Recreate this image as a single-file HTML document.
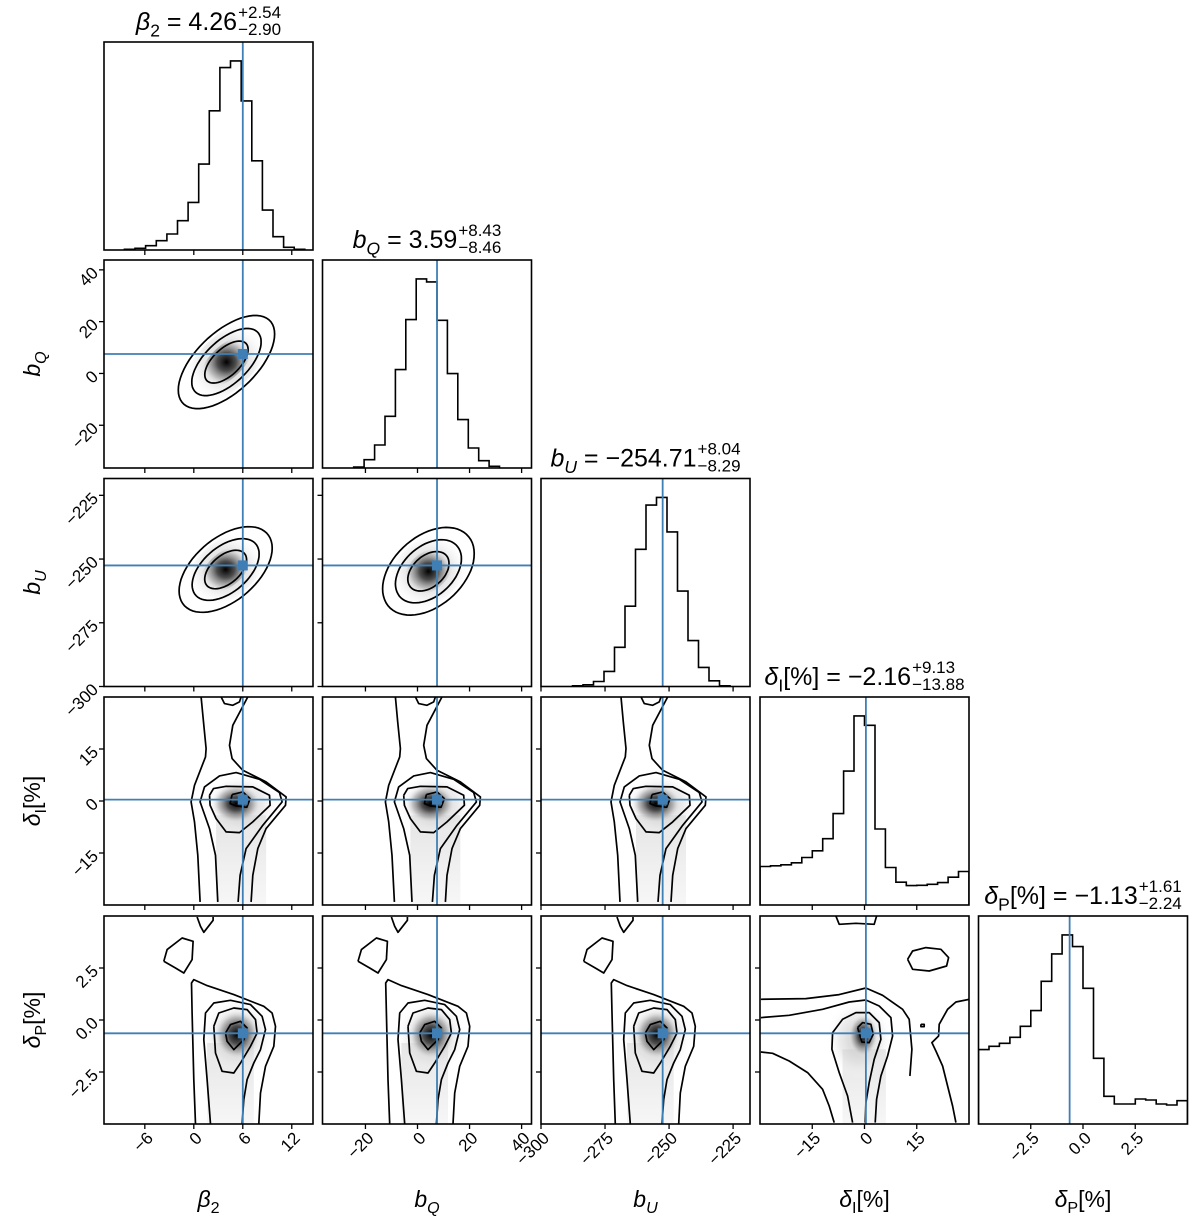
<!DOCTYPE html>
<html><head><meta charset="utf-8"><title>Corner plot</title>
<style>
html,body{margin:0;padding:0;background:#fff;}
svg{display:block;font-family:"Liberation Sans","DejaVu Sans",sans-serif;}
</style></head>
<body>
<svg id="fig" width="1200" height="1229" viewBox="0 0 1200 1229" xmlns="http://www.w3.org/2000/svg">
<defs>
<radialGradient id="core"><stop offset="0" stop-color="#000" stop-opacity="1"/><stop offset="0.35" stop-color="#333" stop-opacity="0.85"/><stop offset="0.7" stop-color="#999" stop-opacity="0.55"/><stop offset="1" stop-color="#fff" stop-opacity="0"/></radialGradient>
<radialGradient id="halo"><stop offset="0" stop-color="#bbb" stop-opacity="0.85"/><stop offset="0.6" stop-color="#ddd" stop-opacity="0.55"/><stop offset="1" stop-color="#fff" stop-opacity="0"/></radialGradient>
<linearGradient id="tail" x1="0" y1="0" x2="0" y2="1"><stop offset="0" stop-color="#d8d8d8" stop-opacity="0.7"/><stop offset="1" stop-color="#eeeeee" stop-opacity="0.5"/></linearGradient>
</defs>
</svg>
<script>
// ---- axis configuration (data ranges) ----
const lo = [-11, -36.5, -300, -30, -5];
const hi = [14.6, 43.8, -218.4, 30, 5];
const truths = [6.0, 7.5, -252.5, 0.4, -0.64];
const ticks = [[-6, 0, 6, 12], [-20, 0, 20, 40], [-300, -275, -250, -225], [-15, 0, 15], [-2.5, 0, 2.5]];
const tickLabels = [["−6", "0", "6", "12"], ["−20", "0", "20", "40"], ["−300", "−275", "−250", "−225"], ["−15", "0", "15"], ["−2.5", "0.0", "2.5"]];

// ---- 1D histograms ----
const histStart = [-8.5, -24.5, -287.7, -30, -5];
const histWidth = [1.3, 4.0, 4.1, 3, 0.5];
const hist0 = [2, 5, 13, 28, 48, 88, 143, 258, 418, 548, 568, 448, 268, 120, 40, 8, 2];
const hist1 = [3, 25, 69, 155, 295, 445, 567, 558, 443, 283, 145, 60, 22, 5];
const hist2 = [2, 5, 15, 45, 117, 240, 410, 542, 565, 462, 285, 137, 57, 17, 2];
const hist3 = [115, 117, 120, 126, 142, 162, 198, 273, 400, 565, 537, 227, 112, 68, 58, 59, 62, 67, 83, 100];
const hist4 = [223, 233, 242, 260, 293, 340, 428, 510, 567, 532, 407, 197, 83, 60, 60, 75, 72, 60, 57, 70];

// ---- 2D gaussian-like panels ----
const ellRows = [1, 2, 2];
const ellCols = [0, 0, 1];
const ellCx = [4.0, 3.9, 4.2];
const ellCy = [4.4, -254.1, -254.8];
const ellSx = [5.9, 5.7, 17.6];
const ellSy = [18, 16.8, 17.2];
const ellRho = [0.6, 0.5, 0.4];
const ellLevels = [1, 0.72, 0.45];

const titleMain = ["4.26", "3.59", "−254.71", "−2.16", "−1.13"];
const titleUp = ["+2.54", "+8.43", "+8.04", "+9.13", "+1.61"];
const titleDn = ["−2.90", "−8.46", "−8.29", "−13.88", "−2.24"];

// ---- layout ----
const L = [104, 322.5, 541, 760, 978.5], T = [42, 260, 478.5, 697, 916], W = 209, H = 208;
const NS = "http://www.w3.org/2000/svg";
const svg = document.getElementById("fig");
function sx(i, v) { return L[i] + (v - lo[i]) / (hi[i] - lo[i]) * W; }
function sy(j, v) { return T[j] + (hi[j] - v) / (hi[j] - lo[j]) * H; }
function mk(tag, attrs, parent) {
  const e = document.createElementNS(NS, tag);
  for (const k in attrs) e.setAttribute(k, attrs[k]);
  (parent || svg).appendChild(e);
  return e;
}
function pts(a) { return a.map(p => p[0].toFixed(1) + "," + p[1].toFixed(1)).join(" "); }
const BLUE = "#3f7fb6";

const tplRow3 = {o: [350, 333], s: 3,
  lines: [
    [[225,25],[232,100],[240,180],[238,205],[205,290],[195,340],[205,400],[215,500],[222,640]],
    [[365,25],[320,110],[310,170],[318,210],[350,245],[420,280],[480,325],[478,350],[420,420],[395,480],[380,560],[375,640]],
    [[285,25],[295,45],[320,50],[340,40],[345,25]],
    [[275,640],[268,500],[250,420],[222,340],[235,295],[280,262],[330,252],[400,272],[460,312],[468,340],[410,410],[360,480],[342,560],[336,640]],
    [[250,320],[262,300],[300,293],[380,295],[430,320],[432,350],[380,400],[340,432],[300,430],[270,390],[252,350],[250,320]],
    [[318,318],[350,310],[372,330],[362,356],[330,352],[312,345],[318,318]]
  ],
  halo: [345, 350, 115, 95], core: [330, 345, 75, 60], tail: [270, 380, 150, 640]};
const tplRow4 = {o: [457, 461], s: 3,
  lines: [
    [[320,112],[330,140],[340,158],[368,122],[368,112]],
    [[220,245],[230,210],[275,175],[308,185],[305,240],[280,280],[255,265],[220,245]],
    [[315,733],[310,600],[305,400],[303,310],[310,300],[350,318],[430,345],[520,380],[545,400],[555,440],[550,500],[525,560],[510,640],[505,733]],
    [[360,733],[350,600],[340,480],[345,400],[370,370],[420,362],[480,375],[515,410],[525,450],[510,510],[490,550],[470,600],[460,660],[455,733]],
    [[370,440],[385,400],[430,385],[470,390],[495,420],[500,460],[480,500],[450,550],[430,580],[395,575],[375,520],[370,440]],
    [[405,460],[420,435],[450,425],[470,445],[460,480],[430,510],[410,485],[405,460]]
  ],
  halo: [440, 470, 110, 115], core: [440, 465, 70, 75], tail: [350, 490, 140, 733]};
const tpl43 = {o: [330, 372], s: 3,
  lines: [
    [[240,20],[250,45],[300,42],[355,45],[362,20]],
    [[455,150],[470,125],[510,115],[555,120],[578,145],[572,170],[520,185],[470,180],[455,150]],
    [[15,270],[150,268],[250,256],[330,236],[380,258],[440,300],[460,330],[468,420],[462,500]],
    [[640,270],[600,278],[575,300],[550,345],[548,380],[528,400],[540,425],[560,470],[575,530],[590,590],[600,640]],
    [[15,428],[50,432],[100,455],[155,490],[200,540],[220,590],[235,640]],
    [[15,325],[100,318],[200,300],[280,278],[330,272],[370,290],[405,325],[410,380],[395,440],[375,500],[362,570],[358,640]],
    [[290,640],[275,560],[250,490],[228,420],[230,370],[260,330],[300,310],[340,310],[370,340],[375,390],[355,450],[340,520],[330,580],[328,640]],
    [[305,355],[320,340],[345,345],[352,375],[340,400],[318,398],[305,355]],
    [[495,345],[505,345],[505,352],[495,352],[495,345]]
  ],
  halo: [310, 390, 100, 120], core: [322, 378, 45, 65], tail: [260, 420, 130, 640]};

function clipFor(i, j) {
  const id = "clip" + i + "_" + j;
  const cp = mk("clipPath", {id: id}, svg.querySelector("defs"));
  mk("rect", {x: L[i], y: T[j], width: W, height: H}, cp);
  return "url(#" + id + ")";
}

function drawTemplate(g, tpl, i, j) {
  const ox = sx(i, truths[i]), oy = sy(j, truths[j]);
  const f = (p) => [ox + (p[0] - tpl.o[0]) / tpl.s, oy + (p[1] - tpl.o[1]) / tpl.s];
  const t = tpl.tail;
  const tp = f([t[0], t[1]]);
  const tail = mk("rect", {x: tp[0], y: tp[1], width: t[2] / tpl.s, height: (t[3] - t[1]) / tpl.s + 2, fill: "url(#tail)"}, g);
  
  
  const hc = f([tpl.halo[0], tpl.halo[1]]);
  const halo = mk("ellipse", {cx: hc[0], cy: hc[1], rx: tpl.halo[2] / tpl.s, ry: tpl.halo[3] / tpl.s, fill: "url(#halo)"}, g);
  
  
  const cc = f([tpl.core[0], tpl.core[1]]);
  const core = mk("ellipse", {cx: cc[0], cy: cc[1], rx: tpl.core[2] / tpl.s, ry: tpl.core[3] / tpl.s, fill: "url(#core)"}, g);
  
  
  tpl.lines.forEach(line => {
    const pl = mk("polyline", {points: pts(line.map(f)), fill: "none", stroke: "#000", "stroke-width": 1.7, "stroke-linejoin": "round"}, g);
    
    
  });
}

function ellipsePts(i, j, k, n) {
  const a = [];
  for (let t = 0; t <= 64; t++) {
    const th = t / 64 * Math.PI * 2;
    const vx = ellCx[n] + k * ellSx[n] * Math.cos(th);
    const vy = ellCy[n] + k * ellSy[n] * (ellRho[n] * Math.cos(th) + Math.sqrt(1 - ellRho[n] * ellRho[n]) * Math.sin(th));
    a.push([sx(i, vx), sy(j, vy)]);
  }
  return a;
}

function frame(i, j) {
  const r = mk("rect", {x: L[i], y: T[j], width: W, height: H, fill: "none", stroke: "#000", "stroke-width": 1.6});
  
  
}

function xTicks(i, j, withLabels) {
  ticks[i].forEach((v, k) => {
    const x = sx(i, v), y = T[j] + H;
    const tk = mk("line", {x1: x, y1: y, x2: x, y2: y + 5, stroke: "#000", "stroke-width": 1.3});
    
    
    if (withLabels) {
      const ax = x + 5, ay = y + 11;
      const tx = mk("text", {x: ax, y: ay, "text-anchor": "end", "font-size": 17, dy: "0.35em", transform: "rotate(-45 " + ax + " " + ay + ")"});
      tx.textContent = tickLabels[i][k];
      
      
    }
  });
}
function yTicks(j, i, withLabels) {
  ticks[j].forEach((v, k) => {
    const y = sy(j, v), x = L[i];
    const tk = mk("line", {x1: x - 5, y1: y, x2: x, y2: y, stroke: "#000", "stroke-width": 1.3});
    
    
    if (withLabels) {
      const ax = x - 9, ay = y;
      const tx = mk("text", {x: ax, y: ay, "text-anchor": "end", "font-size": 17, dy: "0.35em", transform: "rotate(-45 " + ax + " " + ay + ")"});
      tx.textContent = tickLabels[j][k];
      
      
    }
  });
}

const hists = [hist0, hist1, hist2, hist3, hist4];
for (let i = 0; i < 5; i++) {
  const g = mk("g", {"clip-path": clipFor(i, i)});
  
  
  const h = hists[i];
  const ymax = 1.1 * Math.max(...h);
  const base = T[i] + H;
  const yv = (c) => base - c / ymax * H;
  let d = "M" + sx(i, histStart[i]).toFixed(1) + "," + base;
  h.forEach((c, k) => {
    const x0 = sx(i, histStart[i] + k * histWidth[i]), x1 = sx(i, histStart[i] + (k + 1) * histWidth[i]);
    d += " L" + x0.toFixed(1) + "," + yv(c).toFixed(1) + " L" + x1.toFixed(1) + "," + yv(c).toFixed(1);
  });
  d += " L" + sx(i, histStart[i] + h.length * histWidth[i]).toFixed(1) + "," + base;
  const p = mk("path", {d: d, fill: "none", stroke: "#000", "stroke-width": 1.6}, g);
  
  
  const tl = mk("line", {x1: sx(i, truths[i]), y1: T[i], x2: sx(i, truths[i]), y2: T[i] + H, stroke: BLUE, "stroke-width": 1.8}, g);
  
  
  frame(i, i);
  xTicks(i, i, i === 4);
}

for (let j = 1; j < 5; j++) {
  for (let i = 0; i < j; i++) {
    const g = mk("g", {"clip-path": clipFor(i, j)});
    
    
    let n = -1;
    for (let q = 0; q < ellRows.length; q++) if (ellRows[q] === j && ellCols[q] === i) n = q;
    if (n >= 0) {
      const hl = mk("polygon", {points: pts(ellipsePts(i, j, 0.9, n)), fill: "url(#halo)"}, g);
      
      
      const cr = mk("polygon", {points: pts(ellipsePts(i, j, 0.55, n)), fill: "url(#core)"}, g);
      
      
      ellLevels.forEach(k => {
        const c = mk("polygon", {points: pts(ellipsePts(i, j, k, n)), fill: "none", stroke: "#000", "stroke-width": 1.7}, g);
        
        
      });
    } else if (j === 3) {
      drawTemplate(g, tplRow3, i, j);
    } else if (j === 4 && i < 3) {
      drawTemplate(g, tplRow4, i, j);
    } else {
      drawTemplate(g, tpl43, i, j);
    }
    const vx = sx(i, truths[i]), vy = sy(j, truths[j]);
    const lv = mk("line", {x1: vx, y1: T[j], x2: vx, y2: T[j] + H, stroke: BLUE, "stroke-width": 1.8}, g);
    
    
    const lh = mk("line", {x1: L[i], y1: vy, x2: L[i] + W, y2: vy, stroke: BLUE, "stroke-width": 1.8}, g);
    
    
    const mkr = mk("rect", {x: vx - 5, y: vy - 5, width: 10, height: 10, fill: BLUE}, g);
    
    
    frame(i, j);
    xTicks(i, j, j === 4);
    yTicks(j, i, i === 0);
  }
}

function symLabel(k, x, y, size, rotate) {
  const t = mk("text", {x: x, y: y, "text-anchor": "middle", "font-size": size});
  if (rotate) t.setAttribute("transform", "rotate(-90 " + x + " " + y + ")");
  const sym = [["β", "2", false], ["b", "Q", true], ["b", "U", true], ["δ", "I", false], ["δ", "P", false]][k];
  const a = mk("tspan", {"font-style": "italic"}, t); a.textContent = sym[0];
  const b = mk("tspan", {"font-size": size * 0.7, dy: size * 0.25, "font-style": sym[2] ? "italic" : "normal"}, t); b.textContent = sym[1];
  if (k >= 3) { const c = mk("tspan", {dy: -size * 0.25}, t); c.textContent = "[%]"; }
  return t;
}
const xNames = ["x-axis-label-beta2", "x-axis-label-bq", "x-axis-label-bu", "x-axis-label-delta-i", "x-axis-label-delta-p"];
for (let i = 0; i < 5; i++) {
  const t = symLabel(i, L[i] + W / 2, 1207, 23, false);
  
  
}
const yNames = ["y-axis-label-bq", "y-axis-label-bu", "y-axis-label-delta-i", "y-axis-label-delta-p"];
for (let j = 1; j < 5; j++) {
  const t = symLabel(j, 40, T[j] + H / 2, 23, true);
  
  
}

for (let i = 0; i < 5; i++) {
  const g = mk("g", {});
  
  
  const y = T[i] - 12;
  const t = symLabel(i, 0, y, 25, false);
  g.appendChild(t);
  t.setAttribute("text-anchor", "start");
  const eq = mk("tspan", {}, t);
  eq.textContent = " = " + titleMain[i];
  if (i < 3) eq.setAttribute("dy", -25 * 0.25);
  const up = mk("text", {x: 0, y: y - 12, "font-size": 17}, g); up.textContent = titleUp[i];
  const dn = mk("text", {x: 0, y: y + 5, "font-size": 17}, g); dn.textContent = titleDn[i];
  const w1 = t.getComputedTextLength();
  const w2 = Math.max(up.getComputedTextLength(), dn.getComputedTextLength());
  const x0 = L[i] + W / 2 - (w1 + w2 + 1) / 2;
  t.setAttribute("x", x0);
  up.setAttribute("x", x0 + w1 + 1);
  dn.setAttribute("x", x0 + w1 + 1);
}
</script>
</body></html>
